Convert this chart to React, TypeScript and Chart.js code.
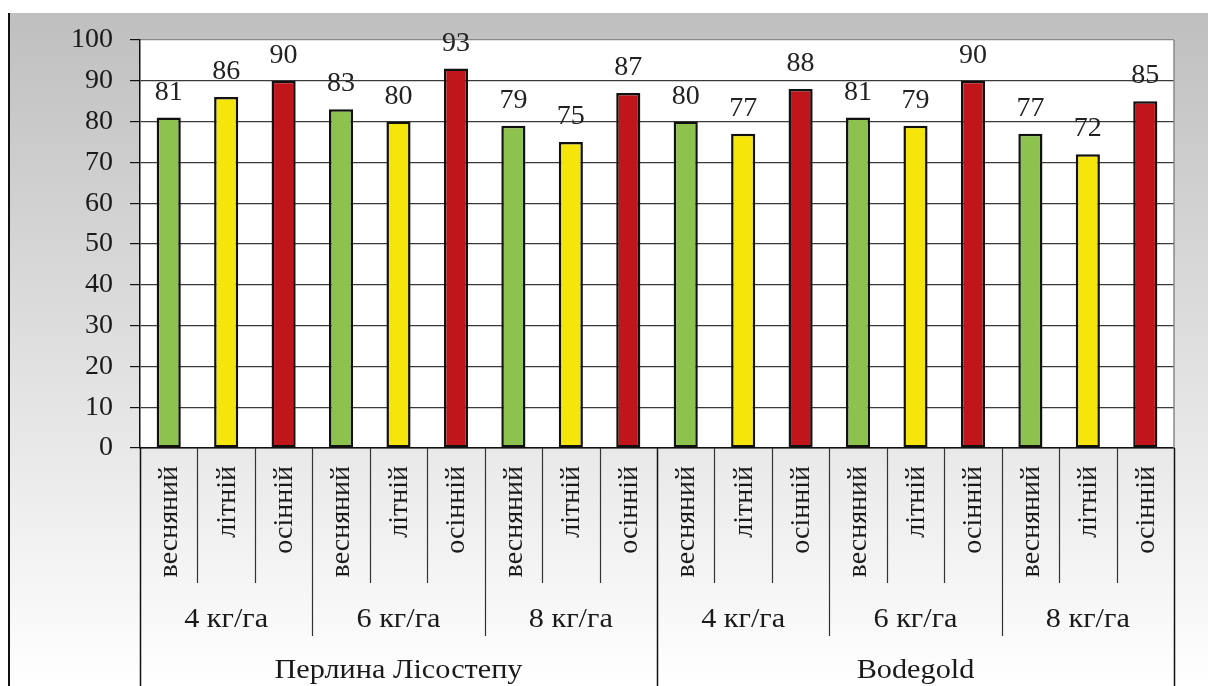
import React, { useEffect, useRef } from "react";
import { Chart, registerables } from "chart.js";

Chart.register(...registerables);

// Sowing seasons, seeding rates and varieties (grouped category axis)
const seasons = ["весняний", "літній", "осінній"];
const doses = ["4 кг/га", "6 кг/га", "8 кг/га"];
const varieties = ["Перлина Лісостепу", "Bodegold"];

// Values per bar, in order variety → dose → season
const values = [81, 86, 90, 83, 80, 93, 79, 75, 87, 80, 77, 88, 81, 79, 90, 77, 72, 85];

const seasonColors = ["#8dc24f", "#f5e50a", "#c0161b"];

const yMin = 0;
const yMax = 100;
const yStep = 10;

const FONT = '"Liberation Serif", "Times New Roman", Times, serif';

const categories: string[] = [];
varieties.forEach(() => doses.forEach(() => seasons.forEach((s) => categories.push(s))));
const barColors = values.map((_, i) => seasonColors[i % seasons.length]);

const W = 1208;
const H = 686;

const backgroundPlugin = {
  id: "backgroundPlugin",
  beforeDraw(chart: Chart) {
    const { ctx, chartArea } = chart;
    ctx.save();
    ctx.fillStyle = "#ffffff";
    ctx.fillRect(0, 0, W, H);
    const g = ctx.createLinearGradient(0, 13, 0, H);
    g.addColorStop(0, "#bfbfbf");
    g.addColorStop(1, "#ffffff");
    ctx.fillStyle = g;
    ctx.fillRect(8, 13, W - 8, H - 13);
    ctx.strokeStyle = "#111111";
    ctx.lineWidth = 2;
    ctx.beginPath();
    ctx.moveTo(9, 13);
    ctx.lineTo(9, H);
    ctx.stroke();
    ctx.fillStyle = "#ffffff";
    ctx.fillRect(chartArea.left, chartArea.top, chartArea.right - chartArea.left, chartArea.bottom - chartArea.top);
    ctx.restore();
  },
};

const valueLabelPlugin = {
  id: "valueLabelPlugin",
  afterDatasetsDraw(chart: Chart) {
    const { ctx } = chart;
    const meta = chart.getDatasetMeta(0);
    ctx.save();
    ctx.font = `28px ${FONT}`;
    ctx.fillStyle = "#222222";
    ctx.textAlign = "center";
    ctx.textBaseline = "alphabetic";
    meta.data.forEach((el: any, i: number) => {
      ctx.fillText(String(values[i]), el.x, el.y - 18);
    });
    ctx.restore();
  },
};

// horizontally widened text, centred on (x, y)
function wideText(ctx: CanvasRenderingContext2D, text: string, x: number, y: number, sx: number) {
  ctx.save();
  ctx.translate(x, y);
  ctx.scale(sx, 1);
  ctx.fillText(text, 0, 0);
  ctx.restore();
}

const categoryAxisPlugin = {
  id: "categoryAxisPlugin",
  afterDraw(chart: Chart) {
    const { ctx, chartArea } = chart;
    const x = chart.scales.x;
    const n = categories.length;
    const perVariety = doses.length * seasons.length;
    const boundary = (i: number) => {
      if (i === 0) return chartArea.left;
      if (i === n) return chartArea.right;
      return (x.getPixelForValue(i - 1) + x.getPixelForValue(i)) / 2;
    };
    const bottom = chartArea.bottom;
    ctx.save();

    // right border of the plot
    ctx.strokeStyle = "#888888";
    ctx.lineWidth = 1.5;
    ctx.beginPath();
    ctx.moveTo(chartArea.right, chartArea.top);
    ctx.lineTo(chartArea.right, bottom);
    ctx.stroke();

    // dividers between categories
    for (let i = 0; i <= n; i++) {
      const bx = Math.round(boundary(i)) + 0.5;
      let end = 583;
      let color = "#333333";
      if (i % perVariety === 0) {
        end = H;
        color = "#111111";
      } else if (i % seasons.length === 0) {
        end = 636;
      }
      ctx.strokeStyle = color;
      ctx.lineWidth = i % perVariety === 0 ? 1.5 : 1.2;
      ctx.beginPath();
      ctx.moveTo(bx, bottom);
      ctx.lineTo(bx, end);
      ctx.stroke();
    }

    ctx.fillStyle = "#1a1a1a";
    ctx.font = `28px ${FONT}`;

    // season labels, rotated
    categories.forEach((label, i) => {
      const cx = x.getPixelForValue(i);
      ctx.save();
      ctx.translate(cx, bottom + 18);
      ctx.rotate(-Math.PI / 2);
      ctx.textAlign = "right";
      ctx.textBaseline = "middle";
      ctx.fillText(label, 0, 1);
      ctx.restore();
    });

    // seeding rate labels
    ctx.font = `27px ${FONT}`;
    ctx.textAlign = "center";
    ctx.textBaseline = "alphabetic";
    varieties.forEach((_, v) => {
      doses.forEach((d, k) => {
        const start = v * perVariety + k * seasons.length;
        const cx = (boundary(start) + boundary(start + seasons.length)) / 2;
        wideText(ctx, d, cx, 627, 1.12);
      });
    });

    // variety labels
    varieties.forEach((name, v) => {
      const cx = (boundary(v * perVariety) + boundary((v + 1) * perVariety)) / 2;
      wideText(ctx, name, cx, 678, 1.12);
    });
    ctx.restore();
  },
};

export default function App() {
  const ref = useRef<HTMLCanvasElement | null>(null);

  useEffect(() => {
    let chart: Chart | null = null;
    let cancelled = false;

    const build = () => {
      if (cancelled || !ref.current) return;
      chart = new Chart(ref.current, {
        type: "bar",
        data: {
          labels: categories,
          datasets: [
            {
              data: values,
              backgroundColor: barColors,
              borderColor: "#111111",
              borderWidth: 2.5,
              borderSkipped: false,
              barPercentage: 0.42,
              categoryPercentage: 1,
            },
          ],
        },
        options: {
          responsive: false,
          animation: false,
          devicePixelRatio: 1,
          layout: { padding: { left: 0, right: 34, top: 40, bottom: 0 } },
          plugins: {
            legend: { display: false },
            tooltip: { enabled: false },
          },
          scales: {
            x: {
              grid: { display: false },
              border: { display: true, color: "#111111", width: 1.5 },
              ticks: { display: false },
              afterFit(scale: any) {
                scale.height = H - 448;
              },
            },
            y: {
              min: yMin,
              max: yMax,
              ticks: {
                stepSize: yStep,
                color: "#1a1a1a",
                font: { family: FONT, size: 28 },
                padding: 17,
              },
              grid: {
                color: (c: any) => (c.tick && c.tick.value === yMax ? "#888888" : "#3a3a3a"),
                lineWidth: 1.2,
                tickLength: 10,
                tickColor: "#111111",
              },
              border: { display: true, color: "#111111", width: 1.5 },
              afterFit(scale: any) {
                scale.width = 140;
              },
            },
          },
        },
        plugins: [backgroundPlugin, valueLabelPlugin, categoryAxisPlugin],
      });
    };

    const fonts: any = (document as any).fonts;
    if (fonts && fonts.load) {
      fonts
        .load('28px "Liberation Serif"', "0123456789 весняний літній осінній кг/га Перлина Лісостепу Bodegold")
        .catch(() => null)
        .then(build);
    } else {
      build();
    }

    return () => {
      cancelled = true;
      if (chart) chart.destroy();
    };
  }, []);

  return (
    <div style={{ position: "absolute", left: 0, top: 0, width: W, height: H }}>
      <canvas ref={ref} width={W} height={H} style={{ display: "block" }} />
    </div>
  );
}
